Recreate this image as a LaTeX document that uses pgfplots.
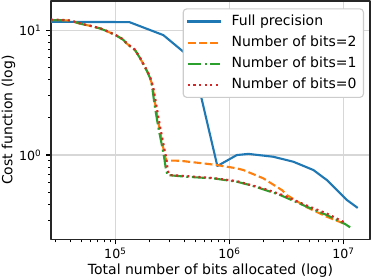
\documentclass[border=0pt]{standalone}
\usepackage{fontspec}
\setmainfont{DejaVu Sans}
\usepackage{pgfplots}
\pgfplotsset{compat=1.18}
\definecolor{c0}{HTML}{1F77B4}
\definecolor{c1}{HTML}{FF7F0E}
\definecolor{c2}{HTML}{2CA02C}
\definecolor{c3}{HTML}{D62728}
\definecolor{gridc}{RGB}{215,215,215}
\definecolor{legc}{RGB}{204,204,204}
\newcommand{\pad}{\rule{3.4bp}{0pt}}
\begin{document}
\fontsize{14bp}{16.8bp}\selectfont
\begin{tikzpicture}
\begin{axis}[
  name=ax,
  scale only axis, width=319bp, height=238.5bp,
  xmode=log, ymode=log,
  xmin=27300, xmax=1.71e7, ymin=0.211, ymax=17.1,
  xtick={1e5,1e6,1e7},
  xticklabels={10\textsuperscript{5},10\textsuperscript{6},10\textsuperscript{7}},
  ytick={1,10},
  yticklabels={10\textsuperscript{0},10\textsuperscript{1}},
  minor xtick={3e4,4e4,5e4,6e4,7e4,8e4,9e4,2e5,3e5,4e5,5e5,6e5,7e5,8e5,9e5,2e6,3e6,4e6,5e6,6e6,7e6,8e6,9e6},
  minor ytick={0.3,0.4,0.5,0.6,0.7,0.8,0.9,2,3,4,5,6,7,8,9},
  tick pos=left, tick align=outside,
  major tick length=4.9bp, minor tick length=2.8bp,
  every tick/.style={black, line width=1.13bp},
  every minor tick/.style={black, line width=0.85bp},
  tick label style={font=\fontsize{12.6bp}{15bp}\selectfont},
  xticklabel style={anchor=base, yshift=-14bp},
  grid=major, major grid style={gridc, line width=1.13bp},
  axis line style={black!85, line width=1.13bp},
  xlabel={Total number of bits allocated (log)},
  ylabel={Cost function (log)},
  x label style={at={(axis description cs:0.5,-0.1488)}, anchor=base},
  y label style={at={(axis description cs:-0.1213,0.5)}, anchor=base},
  legend cell align=left,
  legend image code/.code={\draw[#1] (0bp,0bp) -- (31.7bp,0bp);},
  legend style={at={(rel axis cs:1,1)}, anchor=north east, xshift=-6bp, yshift=-7.3bp,
    draw=legc, line width=1.13bp, rounded corners=3.5bp, fill=white,
    inner xsep=3.6bp, inner ysep=6bp, row sep=7.9bp,
    nodes={inner sep=0pt, text height=10.2bp, text depth=3bp},
    /tikz/every odd column/.style={column sep=11bp}},
  line join=round,
]
\addplot[c0, line width=2.1bp, line cap=rect] coordinates {
(27300,11.65) (132700,11.59) (263600,9.12) (473600,5.85) (784600,0.817) (1161000,1.0) (1468000,1.022) (2432000,0.969) (3642000,0.884) (5456000,0.759) (7152000,0.631) (8750000,0.525) (10720000,0.437) (13110000,0.382)
};
\addlegendentry{Full precision\pad}
\addplot[c1, line width=2.1bp, dash pattern=on 7.8bp off 3.4bp] coordinates {
(27300,12.02) (32720,12.02) (37700,11.96) (41720,11.80) (46420,11.44) (52410,11.11) (59990,10.82) (73420,10.32) (82860,9.87) (92990,9.41) (104100,8.95) (116100,8.43) (124100,7.91) (136500,7.35) (148900,6.92) (164700,5.97) (178600,5.20) (189700,4.70)
(201600,4.17) (212000,3.565) (223000,2.606) (233600,2.025) (245200,1.585) (258400,1.240) (272900,0.969) (282400,0.895) (301900,0.904) (369400,0.90) (591600,0.858) (775400,0.832) (1161000,0.783) (1327000,0.759) (1987000,0.651) (2882000,0.525) (3188000,0.479) (4775000,0.382) (7152000,0.321) (10350000,0.2805)
};
\addlegendentry{Number of bits=2\pad}
\addplot[c2, line width=2.1bp, dash pattern=on 13.5bp off 3.4bp on 2.1bp off 3.4bp] coordinates {
(27300,12.02) (32720,12.02) (37700,11.96) (41720,11.80) (46420,11.44) (52410,11.11) (59990,10.82) (73420,10.32) (82860,9.87) (92990,9.41) (104100,8.95) (116100,8.43) (124100,7.91) (136500,7.35) (148900,6.92) (164700,5.97) (178600,5.20) (189700,4.70)
(201600,4.13) (209900,3.565) (219800,2.606) (229800,2.025) (240800,1.585) (254300,1.240) (267400,0.969) (276800,0.787) (287000,0.692) (423000,0.67) (723700,0.651) (1161000,0.612) (1519000,0.575) (1987000,0.5315) (2784000,0.479) (3408000,0.442) (4775000,0.386) (7152000,0.331) (10350000,0.2805) (11450000,0.264)
};
\addlegendentry{Number of bits=1\pad}
\addplot[c3, line width=2.1bp, dash pattern=on 2.1bp off 3.5bp] coordinates {
(27300,12.15) (32720,12.12) (37700,12.02) (41720,11.85) (46420,11.48) (52410,11.15) (59990,10.86) (73420,10.36) (82860,9.92) (92990,9.45) (104100,9.0) (116100,8.48) (124100,7.96) (136500,7.40) (148900,6.97) (164700,6.02) (178600,5.25) (189700,4.75)
(201600,4.23) (214200,3.565) (227500,2.606) (238400,2.025) (250200,1.585) (263700,1.240) (278400,0.969) (288200,0.759) (297700,0.692) (423000,0.679) (723700,0.655) (1161000,0.619) (1987000,0.5395) (2784000,0.4875) (4775000,0.3945) (7152000,0.3404) (10350000,0.2873)
};
\addlegendentry{Number of bits=0\pad}
\end{axis}
\pgfresetboundingbox
\path[use as bounding box] ([xshift=-51bp,yshift=-40.5bp]ax.south west) rectangle ([xshift=2bp,yshift=1bp]ax.north east);
\end{tikzpicture}
\end{document}
